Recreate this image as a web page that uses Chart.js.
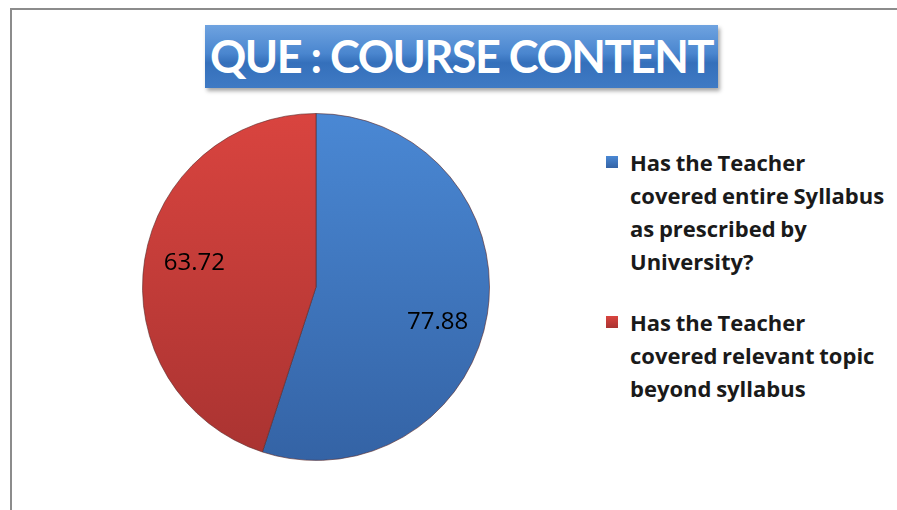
<!DOCTYPE html>
<html>
<head>
<meta charset="utf-8">
<script src="https://cdn.jsdelivr.net/npm/chart.js@4.4.0/dist/chart.umd.min.js"></script>
<style>
    html, body { margin: 0; background: #fff; width: 897px; height: 510px; overflow: hidden; }
    body { position: relative; font-family: Lato, "Open Sans", sans-serif; }
    .frame { position: absolute; left: 10px; top: 8px; width: 950px; height: 560px; border-left: 2px solid #8c8c8c; border-top: 2px solid #8c8c8c; }
    .title {
        position: absolute; left: 205px; top: 25px; width: 513px; height: 63px;
        background: linear-gradient(to bottom, #6fa3e0 0%, #4a86cf 45%, #3570bb 60%, #3f7ac4 100%);
        box-shadow: 2px 3px 4px rgba(0,0,0,0.35);
        color: #fff; font-weight: bold; font-size: 45px; line-height: 63px; text-align: center;
        letter-spacing: -1.5px;
    }
    .pie-box { position: absolute; left: 140px; top: 111px; width: 352px; height: 352px; }
    .legend { position: absolute; left: 606px; top: 146px; font-family: "Open Sans", sans-serif; font-weight: bold; font-size: 22px; line-height: 33px; color: #1a1a1a; word-spacing: -1px; white-space: nowrap; }
    .legend .item { position: relative; padding-left: 24px; margin-bottom: 28px; }
    .legend .sw { position: absolute; left: 0; top: 10px; width: 12px; height: 12px; }
</style>
</head>
<body>
<div class="frame"></div>
<div class="title" id="title"></div>
<div class="pie-box"><canvas id="pie"></canvas></div>
<div class="legend" id="legend"></div>
<script>
// Данные графика
const chartTitle = 'QUE : COURSE CONTENT';
const categories = [
    ['Has the Teacher', 'covered entire Syllabus', 'as prescribed by', 'University?'],
    ['Has the Teacher', 'covered relevant topic', 'beyond syllabus']
];
const values = [77.88, 63.72];
const colorsTop = ['#4a88d4', '#d9443f'];
const colorsBottom = ['#3463a5', '#a93331'];

document.getElementById('title').textContent = chartTitle;

// Легенда
const legendEl = document.getElementById('legend');
categories.forEach((lines, i) => {
    const item = document.createElement('div');
    item.className = 'item';
    const sw = document.createElement('span');
    sw.className = 'sw';
    sw.style.background = `linear-gradient(to bottom, ${colorsTop[i]}, ${colorsBottom[i]})`;
    item.appendChild(sw);
    lines.forEach(t => {
        const d = document.createElement('div');
        d.textContent = t;
        item.appendChild(d);
    });
    legendEl.appendChild(item);
});

// Подписи значений внутри секторов
const valueLabels = {
    id: 'valueLabels',
    afterDatasetsDraw(chart) {
        const ctx = chart.ctx;
        const meta = chart.getDatasetMeta(0);
        ctx.save();
        ctx.font = '24px "Open Sans", sans-serif';
        ctx.fillStyle = '#000';
        ctx.textAlign = 'center';
        ctx.textBaseline = 'middle';
        meta.data.forEach((arc, i) => {
            const mid = (arc.startAngle + arc.endAngle) / 2;
            const r = arc.outerRadius * 0.71;
            const x = arc.x + Math.cos(mid) * r;
            const y = arc.y + Math.sin(mid) * r + (i === 0 ? 16 : -5);
            ctx.fillText(values[i].toFixed(2), x, y);
        });
        ctx.restore();
    }
};

function sliceFill(context) {
    const chart = context.chart;
    const area = chart.chartArea;
    if (!area) return colorsTop[context.dataIndex];
    const g = chart.ctx.createLinearGradient(0, area.top, 0, area.bottom);
    g.addColorStop(0, colorsTop[context.dataIndex]);
    g.addColorStop(1, colorsBottom[context.dataIndex]);
    return g;
}

new Chart(document.getElementById('pie').getContext('2d'), {
    type: 'pie',
    data: {
        labels: categories.map(l => l.join(' ')),
        datasets: [{
            data: values,
            backgroundColor: sliceFill,
            borderColor: 'rgba(90, 40, 40, 0.6)',
            borderWidth: 1
        }]
    },
    options: {
        responsive: true,
        maintainAspectRatio: false,
        animation: false,
        layout: { padding: 2 },
        plugins: {
            legend: { display: false },
            tooltip: { enabled: false }
        }
    },
    plugins: [valueLabels]
});
</script>
</body>
</html>
